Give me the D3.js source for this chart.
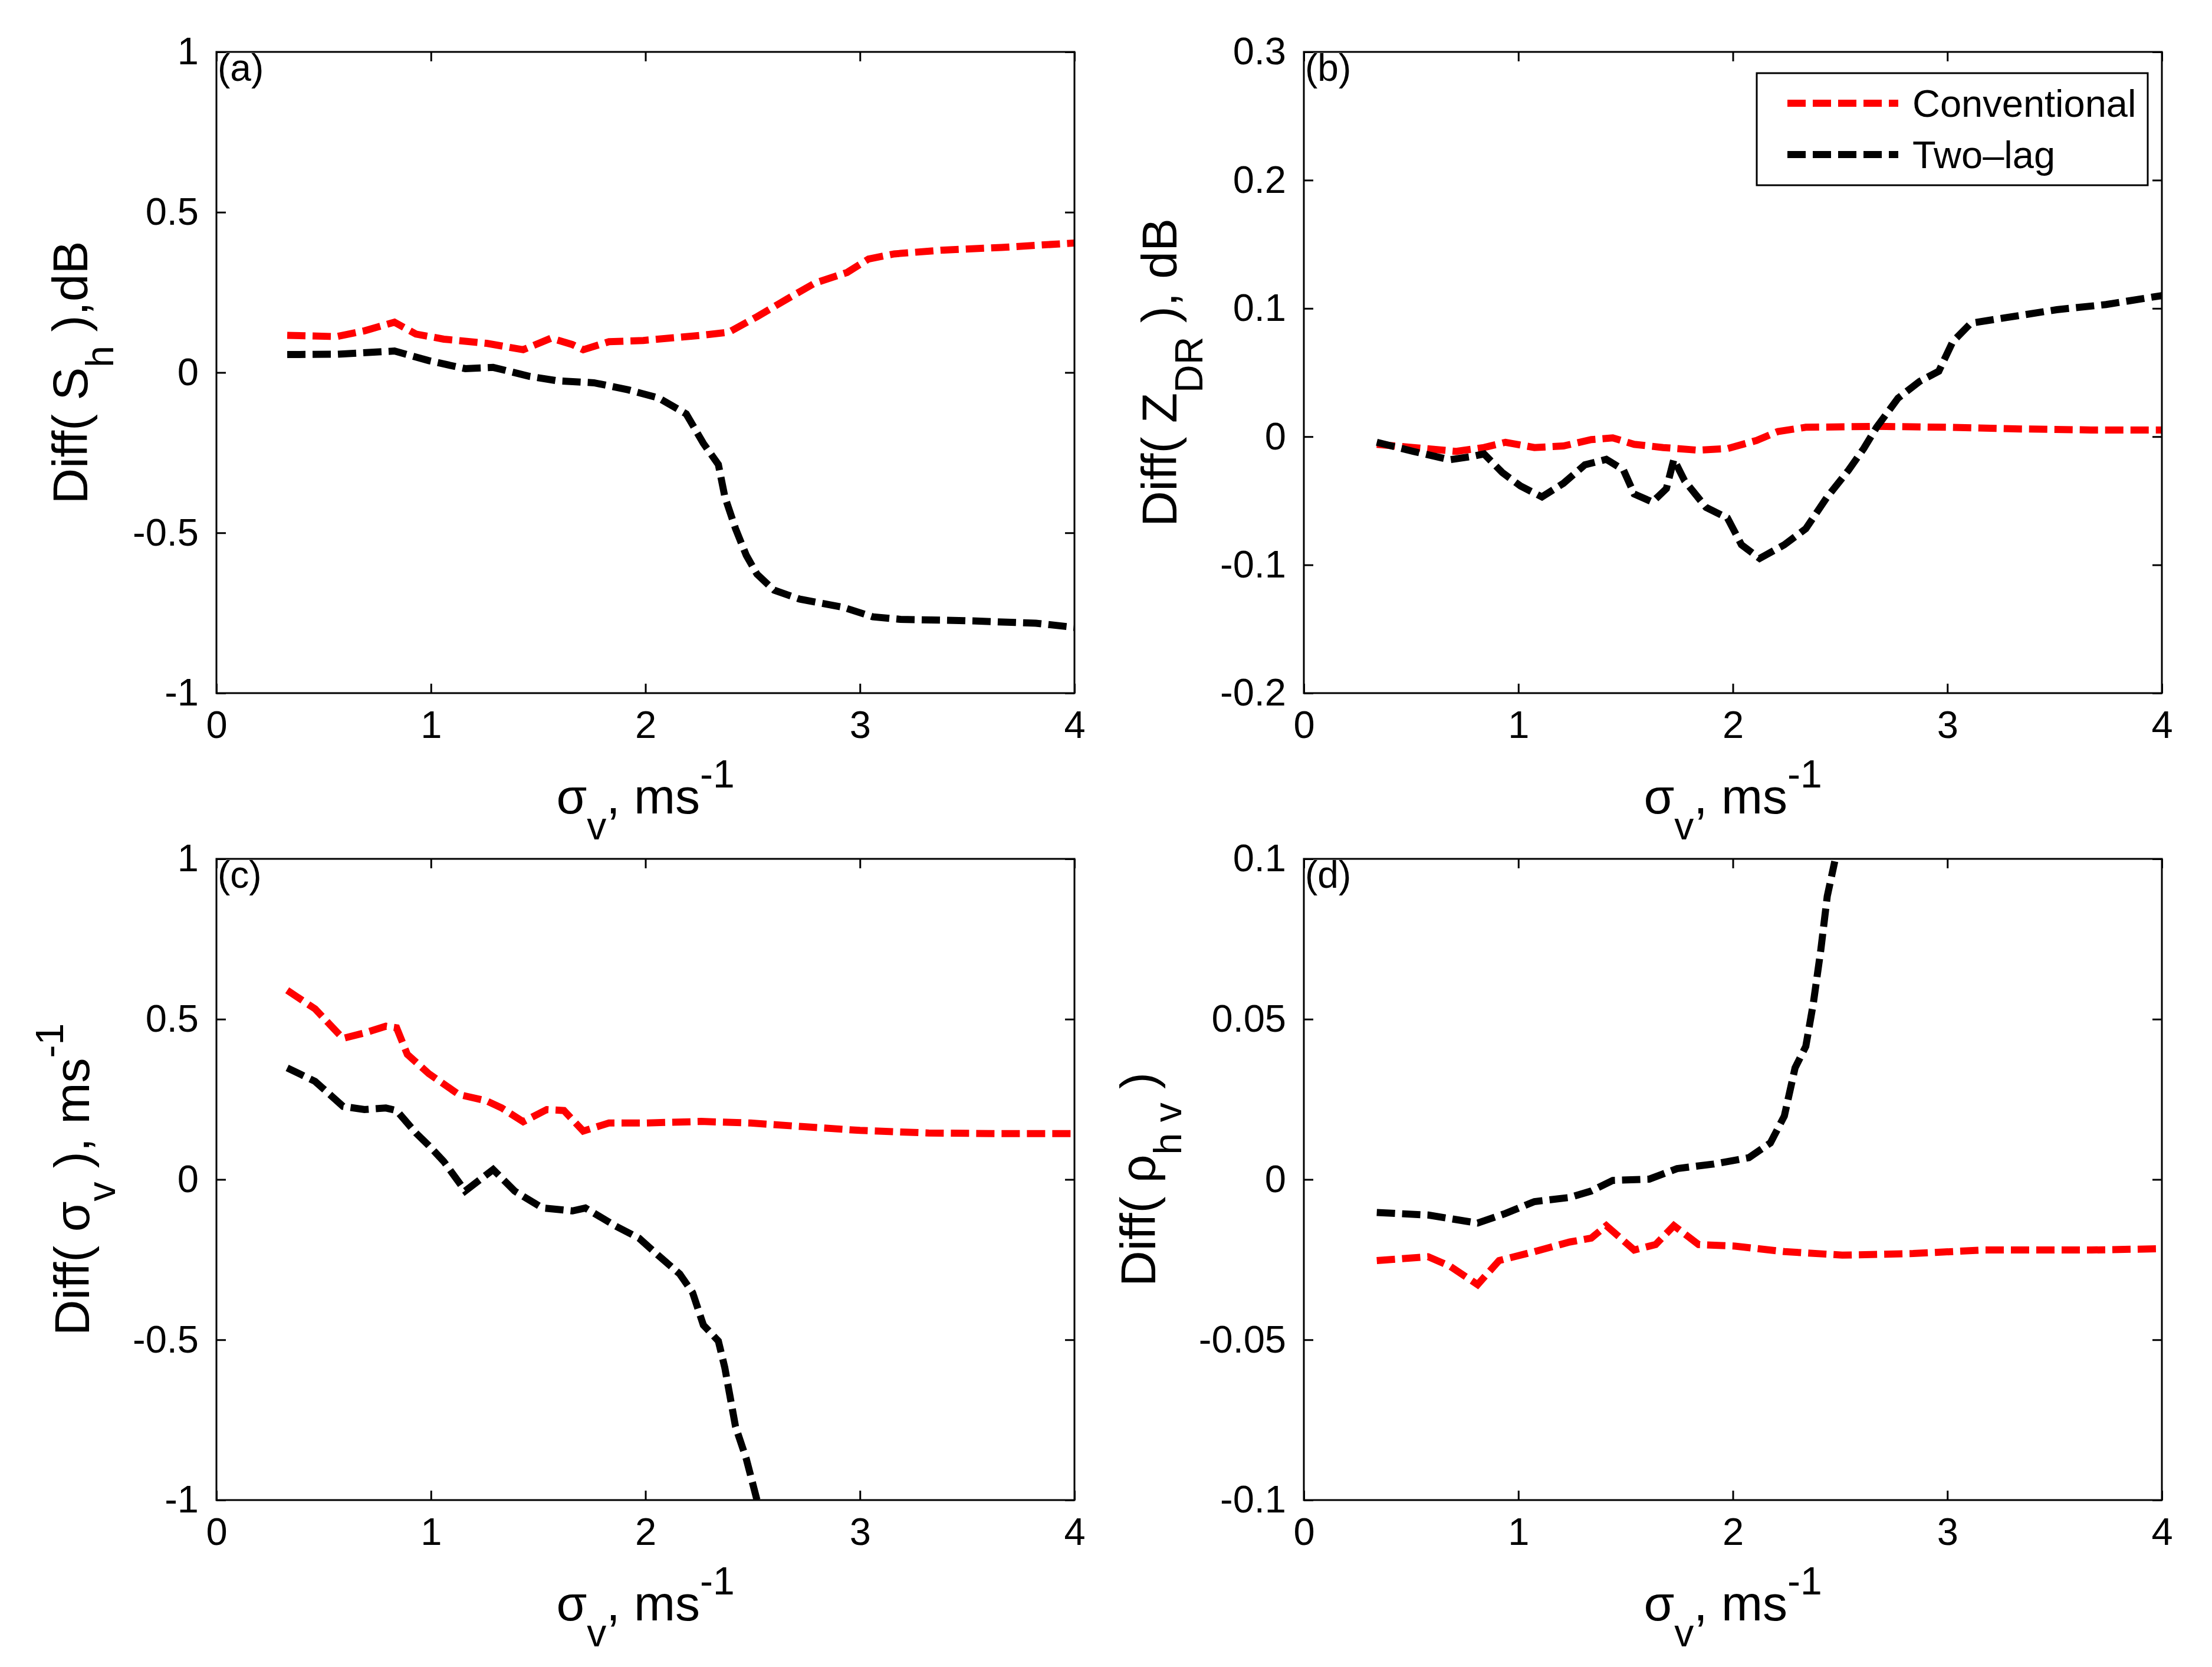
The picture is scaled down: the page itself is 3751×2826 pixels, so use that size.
<!DOCTYPE html>
<html>
<head>
<meta charset="utf-8">
<script src="https://cdn.jsdelivr.net/npm/d3@7"></script>
<style>
  body { margin: 0; background: #fff; }
  text { font-family: "Liberation Sans", Arial, sans-serif; white-space: pre; }
</style>
</head>
<body>
<div class="chart"></div>
<script>
// ---- data ----
var xTicks = [0, 1, 2, 3, 4];
var yTicksA = [-1, -0.5, 0, 0.5, 1];
var yTicksB = [-0.2, -0.1, 0, 0.1, 0.2, 0.3];
var yTicksC = [-1, -0.5, 0, 0.5, 1];
var yTicksD = [-0.1, -0.05, 0, 0.05, 0.1];

var seriesNames = ["Conventional", "Two\u2013lag"];

var aConvX = [0.33,0.56,0.69,0.83,0.93,1.06,1.26,1.43,1.56,1.66,1.71,1.83,1.99,2.26,2.39,2.52,2.66,2.79,2.94,3.04,3.16,3.39,3.66,4.0];
var aConvY = [0.116,0.112,0.13,0.157,0.12,0.104,0.091,0.071,0.107,0.087,0.071,0.096,0.10,0.116,0.126,0.174,0.229,0.279,0.312,0.354,0.37,0.382,0.39,0.404];
var aTwoX = [0.33,0.56,0.83,0.99,1.16,1.29,1.46,1.59,1.76,1.92,2.06,2.19,2.27,2.34,2.37,2.42,2.47,2.52,2.60,2.72,2.92,3.06,3.19,3.49,3.82,4.0];
var aTwoY = [0.056,0.057,0.067,0.037,0.012,0.016,-0.012,-0.026,-0.032,-0.054,-0.079,-0.129,-0.221,-0.287,-0.387,-0.487,-0.57,-0.629,-0.679,-0.707,-0.732,-0.762,-0.77,-0.774,-0.782,-0.795];

var bConvX = [0.34,0.51,0.71,0.84,0.94,1.075,1.21,1.34,1.44,1.54,1.675,1.84,1.975,2.11,2.21,2.34,2.67,3.0,3.34,3.67,4.0];
var bConvY = [-0.006,-0.0085,-0.0115,-0.0085,-0.0044,-0.0085,-0.0073,-0.0023,-0.001,-0.006,-0.0085,-0.0106,-0.0093,-0.003,0.004,0.0073,0.008,0.0073,0.006,0.0052,0.0052];
var bTwoX = [0.34,0.51,0.68,0.78,0.84,0.925,1.01,1.11,1.21,1.31,1.41,1.49,1.54,1.625,1.69,1.725,1.775,1.875,1.975,2.04,2.125,2.24,2.34,2.44,2.54,2.61,2.67,2.77,2.87,2.96,3.025,3.11,3.27,3.51,3.74,4.0];
var bTwoY = [-0.0044,-0.0115,-0.018,-0.0156,-0.0135,-0.028,-0.0385,-0.047,-0.0364,-0.022,-0.0177,-0.026,-0.0447,-0.051,-0.0406,-0.0177,-0.0344,-0.0552,-0.0635,-0.0843,-0.095,-0.0843,-0.0718,-0.047,-0.026,-0.0093,0.0073,0.030,0.043,0.051,0.074,0.0885,0.0927,0.099,0.103,0.110];

var cConvX = [0.33,0.46,0.59,0.69,0.79,0.84,0.89,0.99,1.13,1.26,1.33,1.43,1.54,1.62,1.71,1.83,1.99,2.26,2.49,2.73,3.0,3.32,3.66,4.0];
var cConvY = [0.59,0.532,0.44,0.457,0.478,0.473,0.39,0.33,0.265,0.245,0.223,0.18,0.218,0.215,0.151,0.176,0.176,0.181,0.176,0.165,0.153,0.145,0.143,0.143];
var cTwoX = [0.33,0.46,0.59,0.69,0.79,0.84,0.93,0.99,1.06,1.16,1.29,1.39,1.52,1.66,1.72,1.86,1.97,2.06,2.16,2.22,2.27,2.34,2.37,2.42,2.47,2.52];
var cTwoY = [0.348,0.306,0.228,0.218,0.223,0.215,0.145,0.106,0.056,-0.036,0.031,-0.036,-0.089,-0.098,-0.089,-0.145,-0.183,-0.237,-0.295,-0.353,-0.454,-0.504,-0.587,-0.771,-0.871,-1.0];

var dConvX = [0.34,0.58,0.68,0.81,0.91,1.075,1.24,1.34,1.41,1.54,1.64,1.725,1.84,2.01,2.24,2.51,2.84,3.17,3.67,4.0];
var dConvY = [-0.0253,-0.0241,-0.027,-0.0328,-0.0253,-0.0225,-0.0195,-0.0183,-0.0144,-0.022,-0.0203,-0.0144,-0.0203,-0.0208,-0.0225,-0.0236,-0.0231,-0.022,-0.022,-0.0216];
var dTwoX = [0.34,0.58,0.81,0.94,1.075,1.24,1.34,1.44,1.61,1.74,1.91,2.075,2.175,2.24,2.29,2.34,2.375,2.41,2.44,2.475];
var dTwoY = [-0.0103,-0.0111,-0.0136,-0.0106,-0.0069,-0.0056,-0.0036,-0.0003,0.0001,0.0034,0.0048,0.0068,0.0114,0.0198,0.0348,0.0415,0.0549,0.0716,0.0883,0.0992];

// ---- layout / style ----
var W = 3751, H = 2826;
var pw = 1455, ph = 1087;
var tickFont = 65, labelFont = 84, smallFont = 66;
var lineW = 12, dash = "31,12";
var colors = ["#ff0000", "#000000"];

function zip(xs, ys) { return xs.map(function(x, i) { return {x: x, y: ys[i]}; }); }

// label parts: [text, kind] kind: n normal, b subscript, p superscript
var panels = [
  {id: "a", left: 367, top: 88, yTicks: yTicksA, ylabOff: 219,
   ylab: [["Diff( S","n"],["h","b"],[" ),dB","n"]],
   series: [zip(aConvX, aConvY), zip(aTwoX, aTwoY)]},
  {id: "b", left: 2211, top: 88, yTicks: yTicksB, ylabOff: 216, legend: true,
   ylab: [["Diff( Z","n"],["DR","b"],[" ), dB","n"]],
   series: [zip(bConvX, bConvY), zip(bTwoX, bTwoY)]},
  {id: "c", left: 367, top: 1456, yTicks: yTicksC, ylabOff: 216,
   ylab: [["Diff( \u03c3","n"],["v","b"],[" ), ms","n"],["-1","p"]],
   series: [zip(cConvX, cConvY), zip(cTwoX, cTwoY)]},
  {id: "d", left: 2211, top: 1456, yTicks: yTicksD, ylabOff: 252,
   ylab: [["Diff( \u03c1","n"],["h v","b"],[" )","n"]],
   series: [zip(dConvX, dConvY), zip(dTwoX, dTwoY)]}
];
var xlab = [["\u03c3","n"],["v","b"],[", ms","n"],["-1","p"]];

var svg = d3.select(".chart").append("svg")
  .attr("width", W).attr("height", H)
  .attr("viewBox", "0 0 " + W + " " + H);
svg.append("rect").attr("width", W).attr("height", H).attr("fill", "#fff");

function richText(sel, parts) {
  var shift = 0;
  parts.forEach(function(p) {
    var target = p[1] === "b" ? 44 : (p[1] === "p" ? -44 : 0);
    sel.append("tspan")
      .attr("dy", target - shift)
      .style("font-size", (p[1] === "n" ? labelFont : smallFont) + "px")
      .text(p[0]);
    shift = target;
  });
}

var tickFmt = function(d) { return d3.format("~g")(d).replace("\u2212", "-"); };

panels.forEach(function(p) {
  var x = d3.scaleLinear().domain([0, 4]).range([0, pw]);
  var y = d3.scaleLinear().domain(d3.extent(p.yTicks)).range([ph, 0]);

  var g = svg.append("g").attr("transform", "translate(" + p.left + "," + p.top + ")");

  g.append("clipPath").attr("id", "clip-" + p.id)
    .append("rect").attr("width", pw).attr("height", ph);

  // lines
  var line = d3.line().x(function(d) { return x(d.x); }).y(function(d) { return y(d.y); });
  g.append("g").attr("clip-path", "url(#clip-" + p.id + ")")
    .selectAll("path").data(p.series).enter()
    .append("path")
    .attr("d", line)
    .attr("fill", "none")
    .attr("stroke", function(d, i) { return colors[i]; })
    .attr("stroke-width", lineW)
    .attr("stroke-dasharray", dash);

  // axes (ticks inward on all four sides)
  var axes = [
    g.append("g").attr("transform", "translate(0," + ph + ")")
      .call(d3.axisBottom(x).tickValues(xTicks).tickFormat(d3.format("d"))
        .tickSizeInner(-16).tickSizeOuter(0).tickPadding(30)),
    g.append("g")
      .call(d3.axisTop(x).tickValues(xTicks).tickFormat("")
        .tickSizeInner(-16).tickSizeOuter(0)),
    g.append("g")
      .call(d3.axisLeft(y).tickValues(p.yTicks).tickFormat(tickFmt)
        .tickSizeInner(-16).tickSizeOuter(0).tickPadding(30)),
    g.append("g").attr("transform", "translate(" + pw + ",0)")
      .call(d3.axisRight(y).tickValues(p.yTicks).tickFormat("")
        .tickSizeInner(-16).tickSizeOuter(0))
  ];
  axes.forEach(function(a) {
    a.select(".domain").remove();
    a.selectAll("line").attr("stroke", "#000").attr("stroke-width", 3);
    a.selectAll("text").attr("fill", "#000")
      .style("font-size", tickFont + "px")
      .style("font-family", "'Liberation Sans', Arial, sans-serif");
  });

  g.append("rect").attr("width", pw).attr("height", ph)
    .attr("fill", "none").attr("stroke", "#000").attr("stroke-width", 3);

  // panel tag
  g.append("text").attr("x", 2).attr("y", 49)
    .style("font-size", "64px").text("(" + p.id + ")");

  // x label
  var xl = g.append("text").attr("x", pw / 2).attr("y", ph + 204)
    .attr("text-anchor", "middle");
  richText(xl, xlab);

  // y label
  var yl = g.append("text")
    .attr("transform", "translate(" + (-p.ylabOff) + "," + (ph / 2) + ") rotate(-90)")
    .attr("text-anchor", "middle");
  richText(yl, p.ylab);

  if (p.legend) {
    var lg = g.append("g").attr("class", "legend");
    lg.append("rect").attr("x", 768).attr("y", 36).attr("width", 663).attr("height", 190)
      .attr("fill", "#fff").attr("stroke", "#000").attr("stroke-width", 3);
    seriesNames.forEach(function(name, i) {
      var cy = 87 + i * 87;
      lg.append("line").attr("x1", 820).attr("x2", 1008).attr("y1", cy).attr("y2", cy)
        .attr("stroke", colors[i]).attr("stroke-width", lineW).attr("stroke-dasharray", dash);
      lg.append("text").attr("x", 1032).attr("y", cy + 23)
        .style("font-size", tickFont + "px").text(name);
    });
  }
});
</script>
</body>
</html>
